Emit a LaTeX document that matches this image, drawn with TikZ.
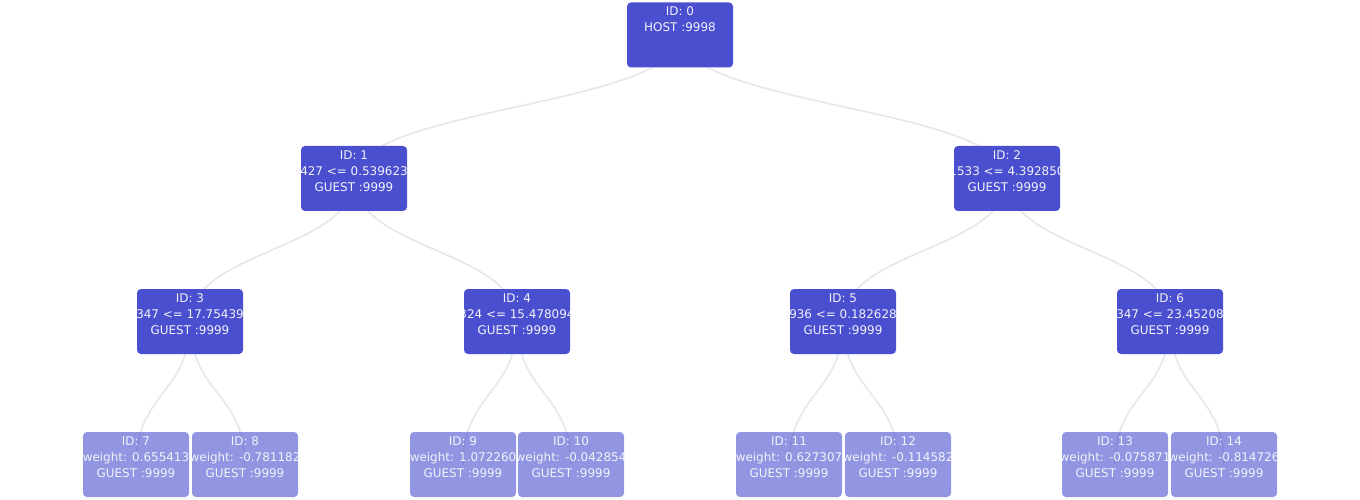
\documentclass[tikz,border=0pt]{standalone}
\usepackage{fontspec}
\setmainfont{DejaVu Sans}
\usetikzlibrary{calc,backgrounds}
\definecolor{nodeblue}{RGB}{73,79,206}
\definecolor{edgegray}{RGB}{230,230,238}
\definecolor{labelwhite}{RGB}{242,242,250}
\tikzset{
  treebox/.style={rounded corners=4bp, minimum width=106bp, minimum height=65bp,
    inner sep=0pt, fill=nodeblue, draw=none},
  splitbox/.style={treebox},
  leafbox/.style={treebox, fill opacity=0.6},
  lbl/.style={anchor=base, inner sep=0pt, text=labelwhite, text opacity=1,
    font=\fontsize{12pt}{16pt}\selectfont},
  edge/.style={draw=edgegray, line width=1.6bp}
}
% a tree node whose three text lines are clipped to its rounded box
\newcommand\tnode[6]{%
  \node[#1, path picture={
    \node[lbl] at ([yshift=-13.4bp]path picture bounding box.north) {#4};
    \node[lbl] at ([yshift=-29.4bp]path picture bounding box.north) {#5};
    \node[lbl] at ([yshift=-45.4bp]path picture bounding box.north) {#6};
  }] (#2) at #3 {};%
}
% curved link from parent centre to child centre, vertical at both ends
\newcommand\treeedge[2]{%
  \path ($(#1.center)!.5!(#2.center)$) coordinate (m#1#2);
  \draw[edge] (#1.center) .. controls (#1.center |- m#1#2) and (#2.center |- m#1#2) .. (#2.center);%
}
\begin{document}
\begin{tikzpicture}[x=1bp,y=-1bp]
\useasboundingbox (0,0) rectangle (1360,500);

\tnode{splitbox}{n0}{(680,35)}{ID: 0}{HOST :9998}{}

\tnode{splitbox}{n1}{(354,178.5)}{ID: 1}{427 <= 0.539623}{GUEST :9999}
\tnode{splitbox}{n2}{(1007,178.5)}{ID: 2}{1533 <= 4.392850}{GUEST :9999}

\tnode{splitbox}{n3}{(190,321.5)}{ID: 3}{347 <= 17.75439}{GUEST :9999}
\tnode{splitbox}{n4}{(517,321.5)}{ID: 4}{324 <= 15.478094}{GUEST :9999}
\tnode{splitbox}{n5}{(843,321.5)}{ID: 5}{936 <= 0.182628}{GUEST :9999}
\tnode{splitbox}{n6}{(1170,321.5)}{ID: 6}{347 <= 23.45208}{GUEST :9999}

\tnode{leafbox}{n7}{(136,464.5)}{ID: 7}{weight: 0.655413}{GUEST :9999}
\tnode{leafbox}{n8}{(245,464.5)}{ID: 8}{weight: -0.781182}{GUEST :9999}
\tnode{leafbox}{n9}{(463,464.5)}{ID: 9}{weight: 1.072260}{GUEST :9999}
\tnode{leafbox}{n10}{(571,464.5)}{ID: 10}{weight: -0.042854}{GUEST :9999}
\tnode{leafbox}{n11}{(789,464.5)}{ID: 11}{weight: 0.627307}{GUEST :9999}
\tnode{leafbox}{n12}{(898,464.5)}{ID: 12}{weight: -0.114582}{GUEST :9999}
\tnode{leafbox}{n13}{(1115,464.5)}{ID: 13}{weight: -0.075871}{GUEST :9999}
\tnode{leafbox}{n14}{(1224,464.5)}{ID: 14}{weight: -0.814726}{GUEST :9999}

\begin{scope}[on background layer]
  \treeedge{n0}{n1}
  \treeedge{n0}{n2}
  \treeedge{n1}{n3}
  \treeedge{n1}{n4}
  \treeedge{n2}{n5}
  \treeedge{n2}{n6}
  \treeedge{n3}{n7}
  \treeedge{n3}{n8}
  \treeedge{n4}{n9}
  \treeedge{n4}{n10}
  \treeedge{n5}{n11}
  \treeedge{n5}{n12}
  \treeedge{n6}{n13}
  \treeedge{n6}{n14}
\end{scope}
\end{tikzpicture}
\end{document}
